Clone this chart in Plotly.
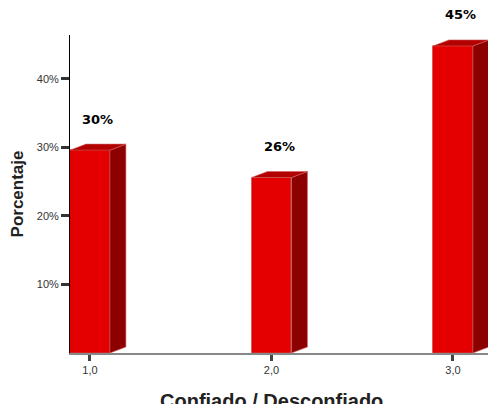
import plotly.graph_objects as go

categories = [1, 2, 3]
category_labels = ["1,0", "2,0", "3,0"]
values = [29.6, 25.6, 44.8]
value_labels = ["30%", "26%", "45%"]
y_ticks = [10, 20, 30, 40]
y_tick_labels = ["10%", "20%", "30%", "40%"]

BAR_W = 0.22
DX = 0.088   # depth offset in x units
DY = 0.88    # depth offset in y units (percent)
FRONT = "#e40000"
SIDE = "#8c0000"
TOP = "#b30000"

fig = go.Figure()
fig.add_trace(go.Bar(x=categories, y=values, width=BAR_W,
                     marker=dict(color=FRONT, line=dict(width=0.6, color="#c00000")),
                     hoverinfo="skip", showlegend=False))

for c, v in zip(categories, values):
    xr = c + BAR_W / 2
    xl = c - BAR_W / 2
    # side face
    fig.add_trace(go.Scatter(
        x=[xr, xr + DX, xr + DX, xr, xr],
        y=[0, DY, v + DY, v, 0],
        fill="toself", fillcolor=SIDE, mode="lines",
        line=dict(color="#d06060", width=0.6), hoverinfo="skip", showlegend=False))
    # top face
    fig.add_trace(go.Scatter(
        x=[xl, xl + DX, xr + DX, xr, xl],
        y=[v, v + DY, v + DY, v, v],
        fill="toself", fillcolor=TOP, mode="lines",
        line=dict(color="#d06060", width=0.6), hoverinfo="skip", showlegend=False))

for c, v, t in zip(categories, values, value_labels):
    fig.add_annotation(x=c + DX / 2, y=v, text="<b>" + t + "</b>", showarrow=False,
                       yshift=31, xanchor="center", yanchor="middle",
                       font=dict(family="DejaVu Sans", size=13, color="#000"))

fig.add_annotation(x=0.483, y=-0.11, xref="paper", yref="paper",
                   text="<b>Confiado / Desconfiado</b>", showarrow=False,
                   xanchor="center", yanchor="top",
                   font=dict(family="Liberation Sans, Arial", size=20, color="#222"))

fig.update_layout(
    width=488, height=404,
    margin=dict(l=70, r=0, t=35, b=51),
    paper_bgcolor="white", plot_bgcolor="white",
    bargap=0,
    xaxis=dict(range=[0.89, 3.193], tickvals=categories, ticktext=category_labels,
               showline=True, linecolor="#888", linewidth=1.5,
               ticks="outside", ticklen=6, tickwidth=3, tickcolor="#444",
               showgrid=False, zeroline=False,
               tickfont=dict(family="Liberation Sans, Arial", size=11, color="#333")),
    yaxis=dict(range=[0, 46.4], tickvals=y_ticks, ticktext=y_tick_labels,
               showline=True, linecolor="#000", linewidth=1,
               ticks="outside", ticklen=8, tickwidth=3, tickcolor="#333",
               showgrid=False, zeroline=False,
               tickfont=dict(family="Liberation Sans, Arial", size=11, color="#333"),
               title=dict(text="<b>Porcentaje</b>", standoff=8,
                          font=dict(family="Liberation Sans, Arial",
                                    size=17, color="#222"))),
)

fig.write_html("out.html", config={"displayModeBar": False})
with open("out.html", encoding="utf-8") as f:
    html = f.read()
html = html.replace("<head>", "<head><style>body{margin:0;padding:0;overflow:hidden}</style>", 1)
with open("out.html", "w", encoding="utf-8") as f:
    f.write(html)
